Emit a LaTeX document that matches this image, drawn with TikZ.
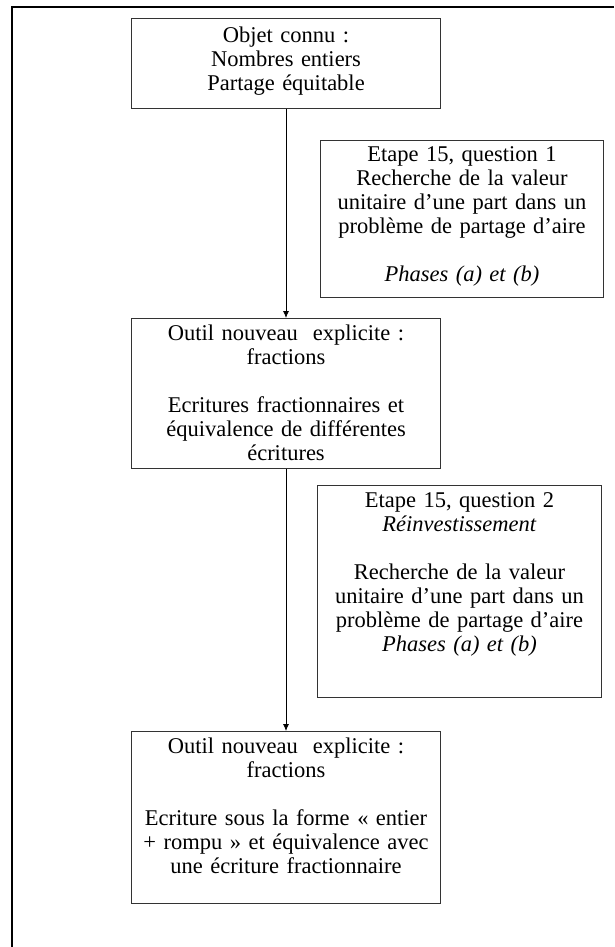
\documentclass[tikz,border=0pt]{standalone}
\usepackage{fontspec}
\setmainfont{Liberation Serif}
\usetikzlibrary{positioning}
\usetikzlibrary{arrows.meta}

\begin{document}
\begin{tikzpicture}[x=1pt,y=-1pt,
    boite/.style={draw=black!80,line width=1pt,anchor=north west,inner sep=0pt},
    texte/.style={align=center,inner sep=0pt,font=\fontsize{22.5}{24}\selectfont},
    fleche/.style={-{Latex[length=7pt,width=6pt]},line width=0.8pt}]
                    \useasboundingbox (0,0) rectangle (614,947);
                    % cadre
                    \draw[line width=2.5pt] (614,7) -- (12,7) -- (12,947);
                    % boites
                    \node[boite,minimum width=309pt,minimum height=90pt] (objet) at (131,18) {};
                    \node[texte,text width=300pt,below=9pt of objet.north] (objet-t)
                        {Objet connu :\\Nombres entiers\\Partage équitable};
                    \node[boite,minimum width=283pt,minimum height=157pt] (etape1) at (320,140) {};
                    \node[texte,text width=280pt,below=6pt of etape1.north] (etape1-t)
                        {Etape 15, question 1\\Recherche de la valeur\\unitaire d’une part dans un\\problème de partage d’aire\\[24pt]\textit{Phases (a) et (b)}};
                    \node[boite,minimum width=309pt,minimum height=150pt] (outil1) at (131,318) {};
                    \node[texte,text width=300pt,below=7pt of outil1.north] (outil1-t)
                        {Outil nouveau~ explicite :\\fractions\\[24pt]Ecritures fractionnaires et\\équivalence de différentes\\écritures};
                    \node[boite,minimum width=284pt,minimum height=212pt] (etape2) at (317,485) {};
                    \node[texte,text width=280pt,below=7pt of etape2.north] (etape2-t)
                        {Etape 15, question 2\\\textit{Réinvestissement}\\[24pt]Recherche de la valeur\\unitaire d’une part dans un\\problème de partage d’aire\\\textit{Phases (a) et (b)}};
                    \node[boite,minimum width=309pt,minimum height=172pt] (outil2) at (131,731) {};
                    \node[texte,text width=300pt,below=7pt of outil2.north] (outil2-t)
                        {Outil nouveau~ explicite :\\fractions\\[24pt]Ecriture sous la forme « entier\\+ rompu » et équivalence avec\\une écriture fractionnaire};
                    % fleches
                    \draw[fleche] (objet.south) -- (outil1.north);
                    \draw[fleche] (outil1.south) -- (outil2.north);
                \end{tikzpicture}
\end{document}
